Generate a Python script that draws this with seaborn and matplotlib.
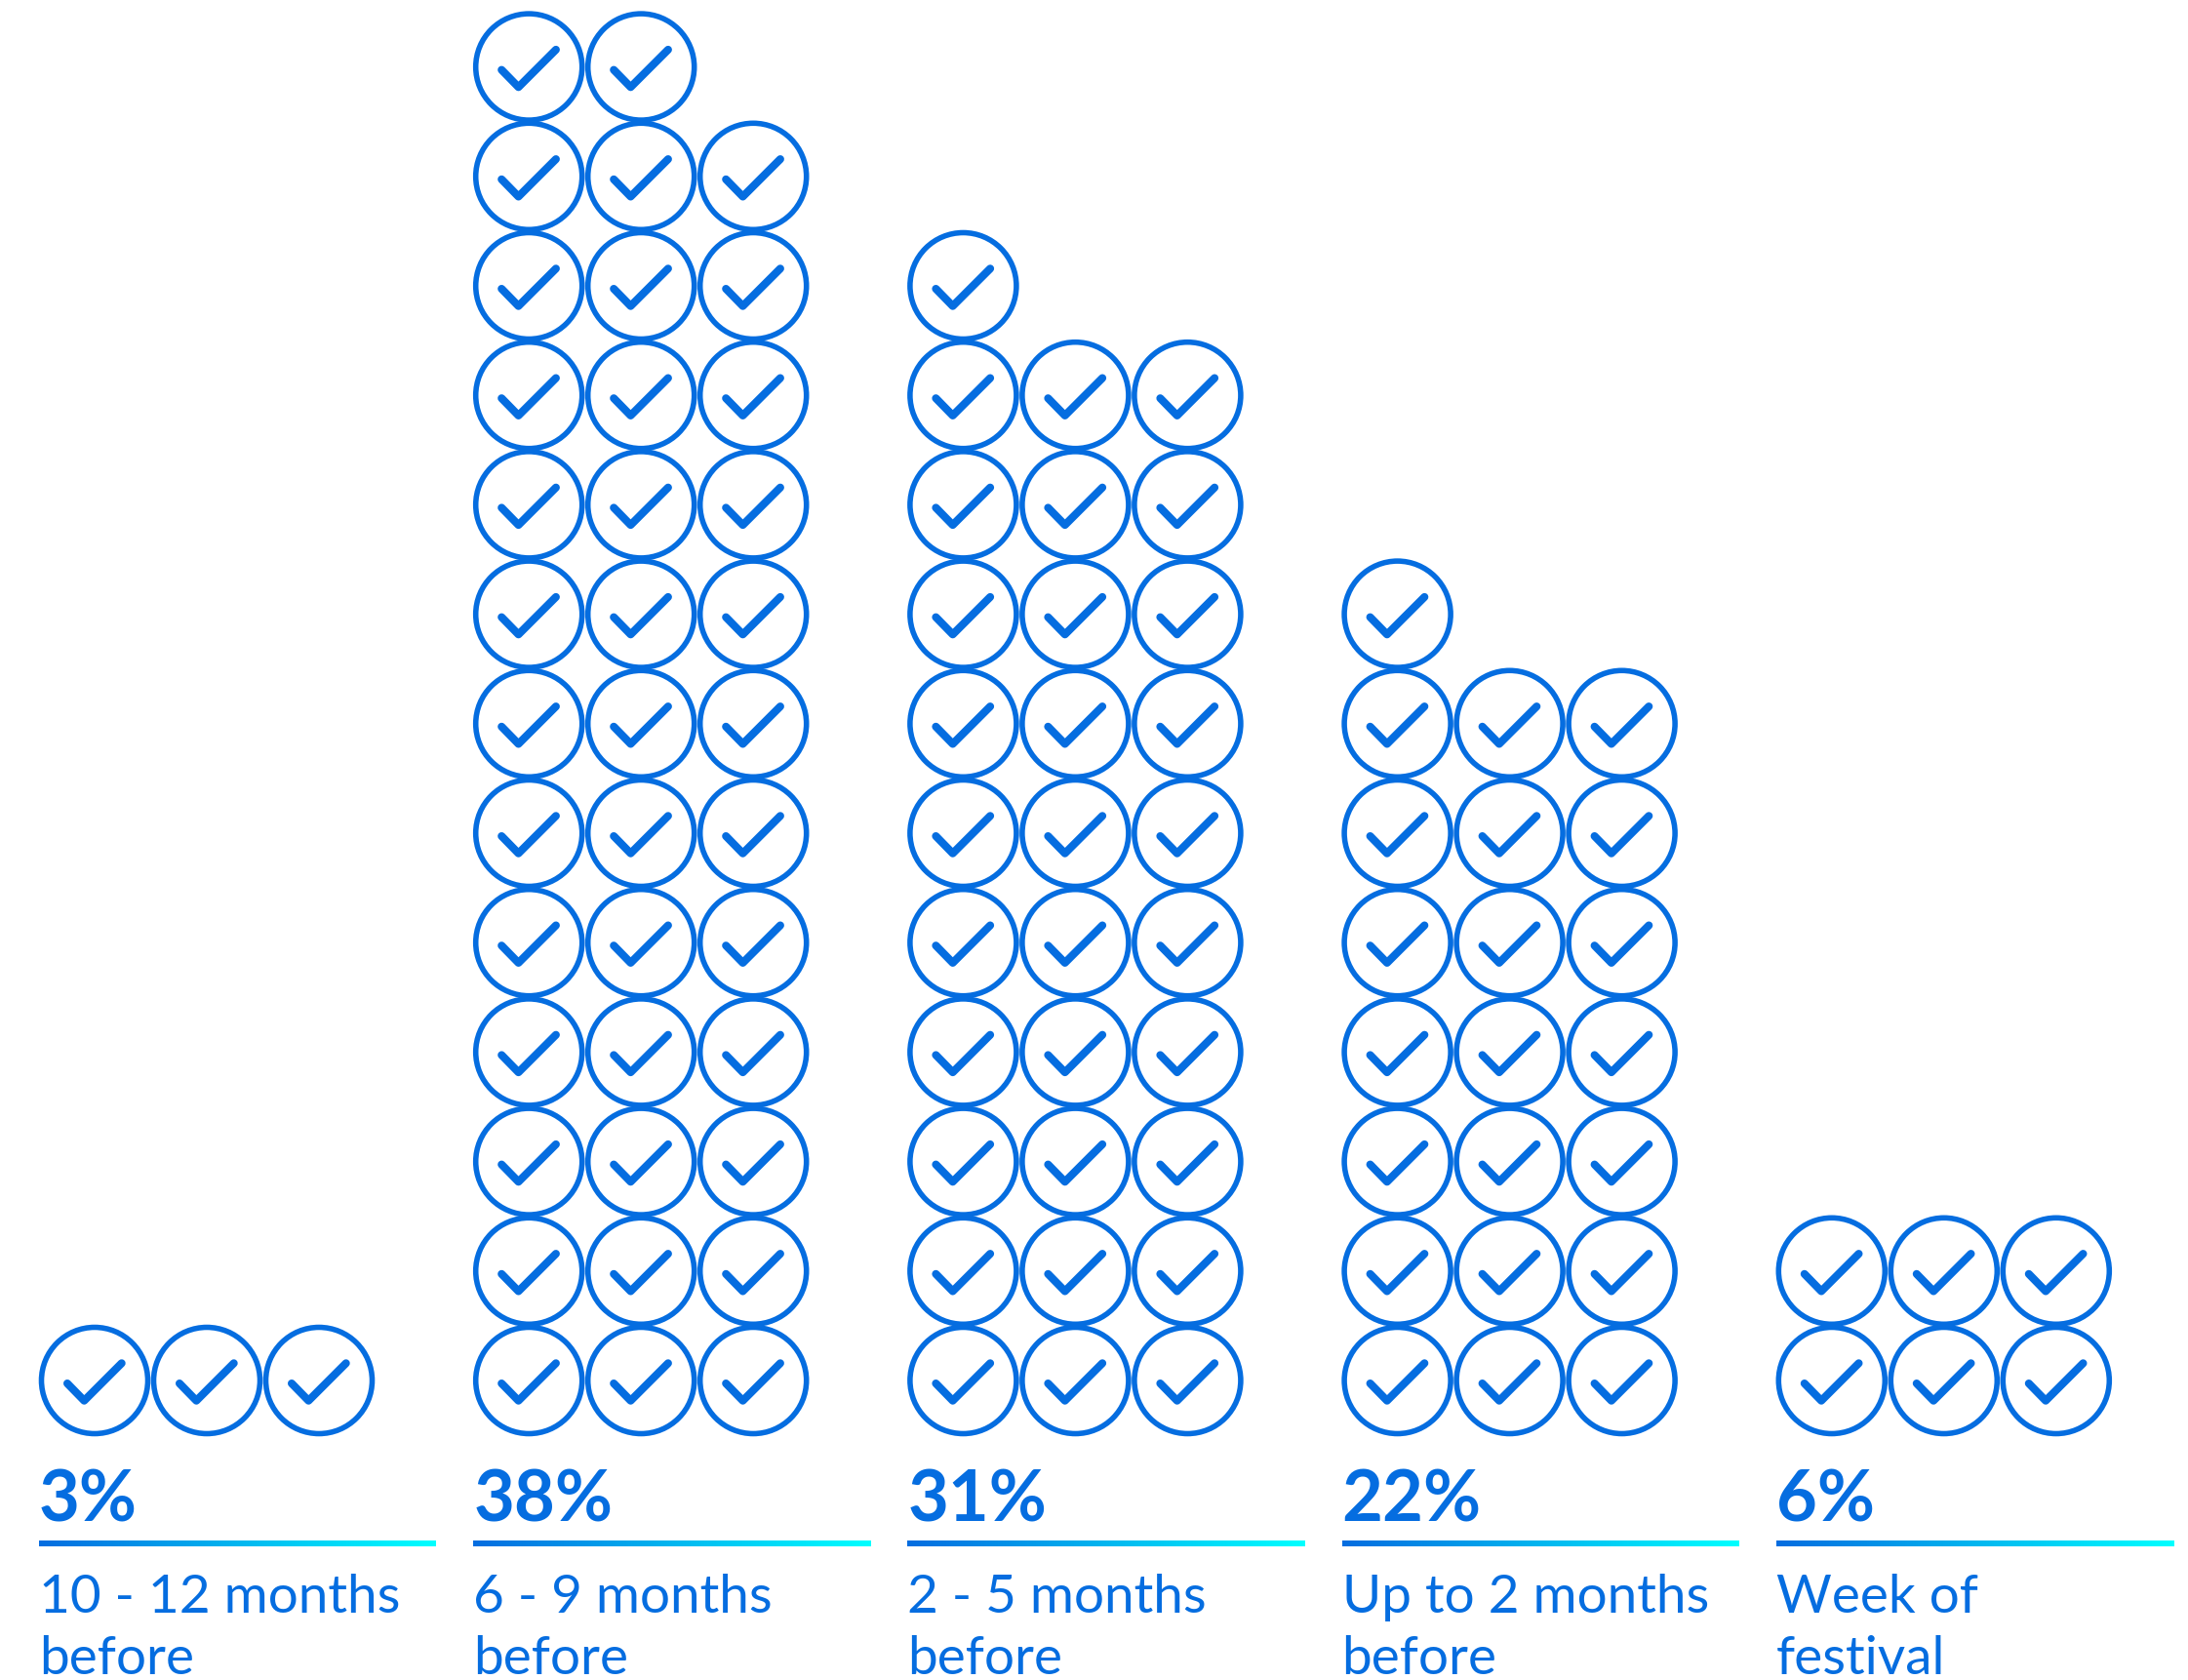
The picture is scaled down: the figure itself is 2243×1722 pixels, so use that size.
import matplotlib
matplotlib.use("Agg")
import matplotlib.pyplot as plt
import seaborn as sns
import numpy as np
import pandas as pd
from matplotlib.path import Path

# ====== Data ======
percent = [3, 38, 31, 22, 6]
line_one = ["10 - 12 months", "6 - 9 months", "2 - 5 months", "Up to 2 months", "Week of"]
line_two = ["before", "before", "before", "before", "festival"]

# ====== Layout (pixels) ======
BLUE = "#056de0"
LEFT = 40
GROUP_STEP = 445.2
RULE_WIDTH = 407
CELL_X = 115
CELL_Y = 112.2
RADIUS = 57
BOTTOM_ROW = 1415

# one icon per percent, filled from the bottom, three per row
rows = []
for g, pct in enumerate(percent):
    for i in range(pct):
        rows.append({"group": g,
                     "x": LEFT + GROUP_STEP * g + RADIUS + CELL_X * (i % 3),
                     "y": BOTTOM_ROW - CELL_Y * (i // 3)})
icons = pd.DataFrame(rows)

sns.set_theme(style="white")
plt.rcParams["font.family"] = ["Lato", "DejaVu Sans"]

fig = plt.figure(figsize=(22.43, 17.22), dpi=100)
ax = fig.add_axes([0, 0, 1, 1])

# ====== Rings ======
sns.scatterplot(data=icons, x="x", y="y", ax=ax, marker="o", s=(109 * 0.72) ** 2,
                color=BLUE, facecolor="none", edgecolor=BLUE, linewidth=4.0,
                legend=False, clip_on=False)

# ====== Ticks ======
tick = Path([(-28, -3), (-10.7, -20.7), (27.7, 17.7)],
            [Path.MOVETO, Path.LINETO, Path.LINETO])
tick_size = 2 * max(abs(tick.vertices).max(axis=0)) * 0.72
sns.scatterplot(data=icons, x="x", y="y", ax=ax, marker=tick, s=tick_size ** 2,
                color=BLUE, facecolor="none", edgecolor=BLUE, linewidth=5.8,
                capstyle="round", joinstyle="round", legend=False, clip_on=False)

# ====== Rules and labels ======
ramp = sns.blend_palette([BLUE, "#00ffff"], as_cmap=True)
gradient = np.linspace(0, 1, 256).reshape(1, -1)
for g, pct in enumerate(percent):
    x0 = LEFT + GROUP_STEP * g
    ax.imshow(gradient, cmap=ramp, aspect="auto",
              extent=(x0, x0 + RULE_WIDTH, 1585, 1579.7))
    ax.text(x0, 1560, f"{pct}%", color=BLUE, fontsize=52, fontweight="bold", va="baseline")
    ax.text(x0, 1653, line_one[g], color=BLUE, fontsize=39.5, va="baseline")
    ax.text(x0, 1716, line_two[g], color=BLUE, fontsize=39.5, va="baseline")

ax.set_xlim(0, 2243)
ax.set_ylim(1722, 0)
ax.axis("off")

fig.savefig("out.png", dpi=100, facecolor="white")
